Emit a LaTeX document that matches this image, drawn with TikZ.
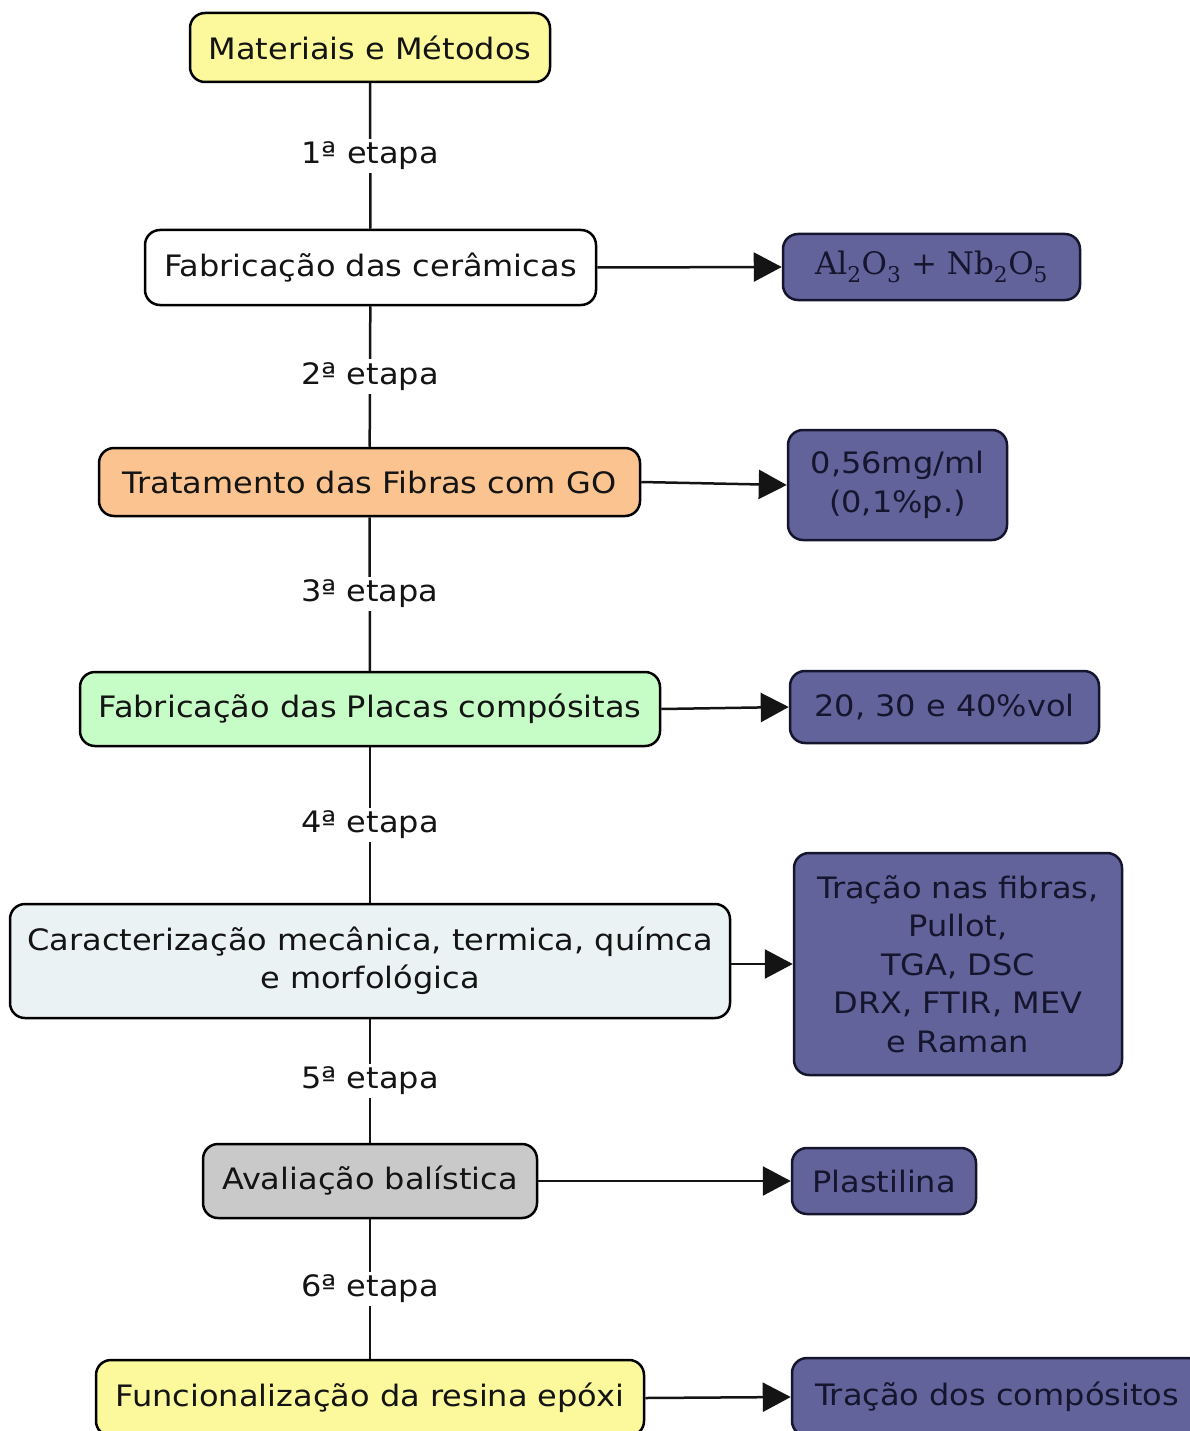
\documentclass[tikz,border=0pt]{standalone}
\usepackage{fontspec}
\setmainfont[FakeStretch=1.085]{DejaVu Sans}
\newfontfamily\chemfont{DejaVu Serif}
\usetikzlibrary{arrows.meta}
\definecolor{cyellow}{HTML}{FBF99B}
\definecolor{corange}{HTML}{FAC38F}
\definecolor{cgreen}{HTML}{C6FDC6}
\definecolor{cblue}{HTML}{EBF2F4}
\definecolor{cgray}{HTML}{C9C9C9}
\definecolor{cpurple}{HTML}{62639A}
\definecolor{ctext}{HTML}{141414}
\definecolor{cdark}{HTML}{15152E}
\tikzset{
  box/.style={draw=black, line width=2.5pt, rounded corners=15pt, inner sep=0pt,
    align=center, font=\fontsize{29.5}{38.5}\selectfont, text=ctext},
  rbox/.style={box, fill=cpurple, draw=cdark, text=cdark},
  lab/.style={fill=white, inner sep=3pt, font=\fontsize{29.5}{38.5}\selectfont, text=ctext},
  conn/.style={line width=2.5pt, draw=ctext},
  arr/.style={conn, -{Triangle[length=28pt,width=29pt]}},
}
\begin{document}
\begin{tikzpicture}[x=1pt,y=-1pt]
\useasboundingbox (0,0) rectangle (1190,1431);
\clip (0,0) rectangle (1190,1431);
\fill[white] (0,0) rectangle (1190,1431);
% main boxes
\node[box, fill=cyellow, minimum width=360pt, minimum height=69pt] (b1) at (370,47.5) {Materiais e Métodos};
\node[box, fill=white, minimum width=451pt, minimum height=75pt] (b2) at (370.5,267.5) {Fabricação das cerâmicas};
\node[box, fill=corange, minimum width=541pt, minimum height=68pt] (b3) at (369.5,482) {Tratamento das Fibras com GO};
\node[box, fill=cgreen, minimum width=580pt, minimum height=74pt] (b4) at (370,709) {Fabricação das Placas compósitas};
\node[box, fill=cblue, minimum width=720pt, minimum height=114pt] (b5) at (370,961) {Caracterização mecânica, termica, químca\\e morfológica};
\node[box, fill=cgray, minimum width=334pt, minimum height=74pt] (b6) at (370,1181) {Avaliação balística};
\node[box, fill=cyellow, minimum width=548pt, minimum height=76pt] (b7) at (370,1398) {Funcionalização da resina epóxi};
% right boxes
\node[rbox, minimum width=297pt, minimum height=66pt] (r1) at (931.5,267) {\fontsize{31}{38}\selectfont\chemfont Al\textsubscript{2}O\textsubscript{3} + Nb\textsubscript{2}O\textsubscript{5}};
\node[rbox, minimum width=219pt, minimum height=110pt] (r2) at (897.5,485) {0,56mg/ml\\(0,1\%p.)};
\node[rbox, minimum width=309pt, minimum height=72pt] (r3) at (944.5,707) {20, 30 e 40\%vol};
\node[rbox, minimum width=328pt, minimum height=222pt] (r4) at (958,964) {Tração nas fibras,\\Pullot,\\TGA, DSC\\DRX, FTIR, MEV\\e Raman};
\node[rbox, minimum width=184pt, minimum height=66pt] (r5) at (884,1181) {Plastilina};
\node[rbox, minimum width=410pt, minimum height=78pt] (r6) at (997,1397) {Tração dos compósitos};
% vertical connectors with labels
\draw[conn] (b1) -- node[lab] {1ª etapa} (b2);
\draw[conn] (b2) -- node[lab] {2ª etapa} (b3);
\draw[conn] (b3) -- node[lab] {3ª etapa} (b4);
\draw[conn] (b4) -- node[lab] {4ª etapa} (b5);
\draw[conn] (b5) -- node[lab] {5ª etapa} (b6);
\draw[conn] (b6) -- node[lab] {6ª etapa} (b7);
% arrows
\draw[arr] (b2.east) -- (r1.west);
\draw[arr] (b3.east) -- (r2.west);
\draw[arr] (b4.east) -- (r3.west);
\draw[arr] (b5.east |- r4.west) -- (r4.west);
\draw[arr] (b6.east) -- (r5.west);
\draw[arr] (b7.east) -- (r6.west);
\end{tikzpicture}
\end{document}
